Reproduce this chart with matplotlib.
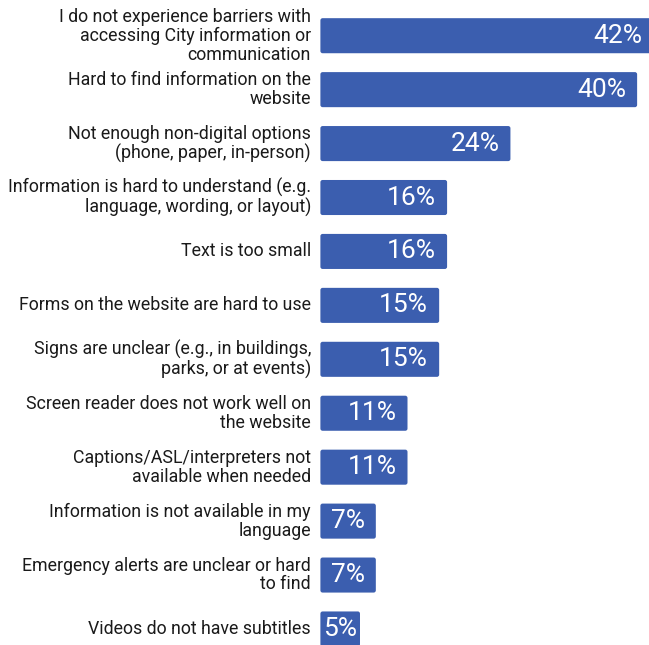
import matplotlib.pyplot as plt
from matplotlib.patches import FancyBboxPatch

plt.rcParams['font.family'] = ['Roboto', 'DejaVu Sans']

labels = [
    "I do not experience barriers with\naccessing City information or\ncommunication",
    "Hard to find information on the\nwebsite",
    "Not enough non-digital options\n(phone, paper, in-person)",
    "Information is hard to understand (e.g.\nlanguage, wording, or layout)",
    "Text is too small",
    "Forms on the website are hard to use",
    "Signs are unclear (e.g., in buildings,\nparks, or at events)",
    "Screen reader does not work well on\nthe website",
    "Captions/ASL/interpreters not\navailable when needed",
    "Information is not available in my\nlanguage",
    "Emergency alerts are unclear or hard\nto find",
    "Videos do not have subtitles",
]
values = [42, 40, 24, 16, 16, 15, 15, 11, 11, 7, 7, 5]

bar_color = "#3B5EAF"

fig = plt.figure(figsize=(6.49, 6.45), dpi=100)
x0 = 320.4 / 649
ax = fig.add_axes([x0, 0, 1 - x0, 1])

ypos = list(range(len(values)))
bars = ax.barh(ypos, values, height=0.65, color=bar_color)

# swap plain rectangles for slightly rounded ones
for b in bars:
    b.set_visible(False)
    ax.add_patch(FancyBboxPatch((b.get_x(), b.get_y()), b.get_width(), b.get_height(),
                                boxstyle="round,pad=0,rounding_size=0.28",
                                mutation_aspect=0.147, color=bar_color, lw=0))

ax.set_xlim(0, 41.5)
ax.set_ylim(11.297, -0.662)
ax.axis('off')

for y, v, lab in zip(ypos, values, labels):
    if v < 6:
        ax.text(0.3, y, f"{v}%", ha='left', va='center',
                color='white', fontsize=19)
    else:
        ax.text(v - 1.4, y, f"{v}%", ha='right', va='center',
                color='white', fontsize=19)
    ax.text(-1.2, y, lab, ha='right', va='center', color='#1a1a1a',
            fontsize=12.8, linespacing=1.06)

fig.savefig("out.png", dpi=100)
